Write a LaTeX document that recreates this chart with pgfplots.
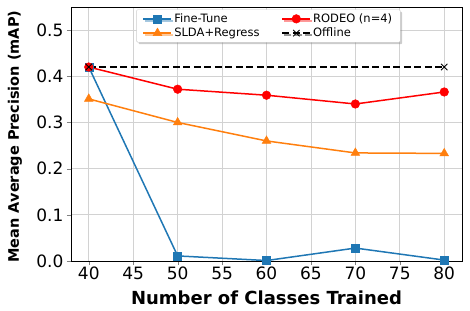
\documentclass[border=0pt]{standalone}
\usepackage{fontspec}
\setmainfont{DejaVu Sans}
\usepackage{pgfplots}
\pgfplotsset{compat=1.18}
\usetikzlibrary{shadows}
\definecolor{c1}{HTML}{1F77B4}
\definecolor{c2}{HTML}{FF7F0E}
\begin{document}
\begin{tikzpicture}
\begin{axis}[
  scale only axis,
  width=391pt, height=254pt,
  xmin=38, xmax=82, ymin=0, ymax=0.55,
  xtick={40,45,...,80}, ytick={0,0.1,...,0.5},
  yticklabel style={/pgf/number format/fixed,/pgf/number format/fixed zerofill,/pgf/number format/precision=1},
  /pgf/number format/assume math mode=true,
  tick label style={font=\fontsize{17}{19}\selectfont},
  xticklabel style={inner sep=1.5pt},
  grid=major, grid style={gray!35, line width=0.8pt},
  axis line style={line width=0.8pt},
  xlabel={\textbf{Number of Classes Trained}},
  ylabel={\textbf{Mean Average Precision (mAP)}},
  every axis x label/.style={at={([yshift=-37pt]rel axis cs:0.5,0)}, anchor=center, font=\fontsize{18}{20}\selectfont},
  every axis y label/.style={at={([xshift=-56pt]rel axis cs:0,0.49)}, anchor=center, rotate=90, font=\fontsize{14.5}{16}\selectfont},
  tick align=outside, tick pos=left,
  major tick length=4pt,
  legend columns=2,
  legend style={at={(0.505,0.99)}, anchor=north, font=\fontsize{11.5}{14}\selectfont, draw=gray!40, fill=white, inner xsep=6pt, drop shadow={shadow xshift=2pt, shadow yshift=-2pt, opacity=0.4}, rounded corners=1pt, /tikz/every even column/.append style={column sep=20pt}},
  legend image code/.code={\draw[line width=1.6pt, mark repeat=2,mark phase=2,#1] plot coordinates {(0pt,0pt) (14pt,0pt) (28pt,0pt)};},
  legend cell align=left,
]
\addplot[c1, line width=1.5pt, mark=square*, mark size=4pt, mark options={line width=0.5pt}] coordinates {(40,0.42) (50,0.011) (60,0.001) (70,0.028) (80,0.002)};
\addlegendentry{Fine-Tune}
\addplot[red, line width=1.5pt, mark=*, mark size=4.3pt, mark options={line width=0.5pt}] coordinates {(40,0.42) (50,0.372) (60,0.359) (70,0.34) (80,0.366)};
\addlegendentry{RODEO (n=4)}
\addplot[c2, line width=1.5pt, mark=triangle*, mark size=5pt, mark options={line width=0.5pt}] coordinates {(40,0.351) (50,0.30) (60,0.26) (70,0.234) (80,0.233)};
\addlegendentry{SLDA+Regress}
\addplot[black, line width=2pt, dash pattern=on 7pt off 3.5pt, mark=x, mark size=4.5pt, mark options={solid, line width=0.9pt}] coordinates {(40,0.42) (80,0.42)};
\addlegendentry{Offline}
\end{axis}
\pgfresetboundingbox
\useasboundingbox (-71pt,-49pt) rectangle (399pt,261pt);
\end{tikzpicture}
\end{document}
